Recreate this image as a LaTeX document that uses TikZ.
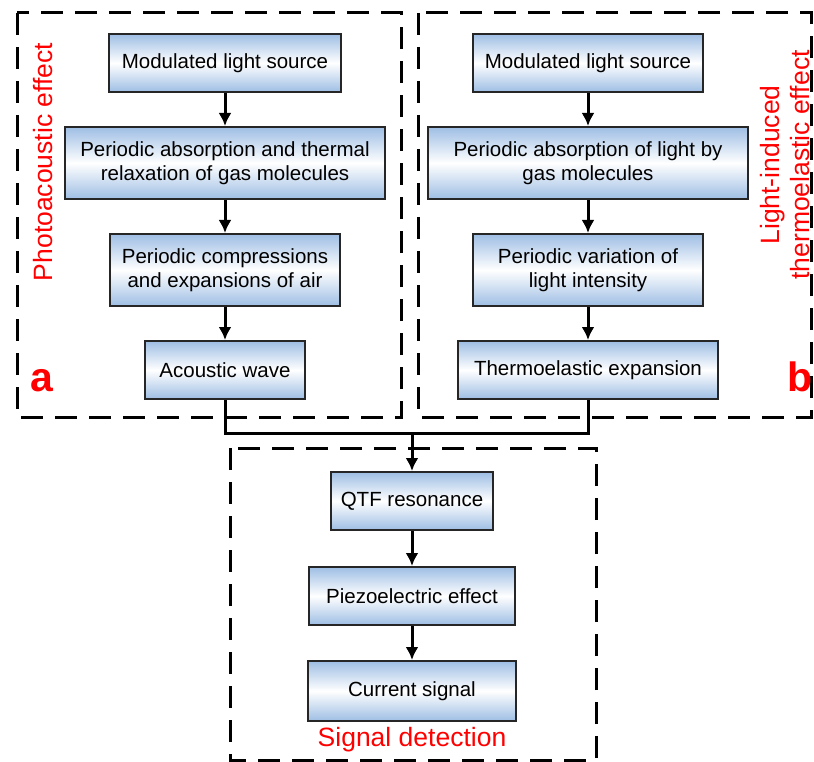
\documentclass[tikz,border=0pt]{standalone}
\usepackage{fontspec}
\setmainfont{Liberation Sans}
\usetikzlibrary{arrows.meta}
\usetikzlibrary{positioning}
\definecolor{boxblue}{RGB}{158,190,228}
\tikzset{
	stepbox/.style={
		draw=black!85,
		line width=2pt,
		rectangle,
		top color=boxblue,
		bottom color=boxblue,
		middle color=white,
		minimum height=58pt,
		inner sep=2pt,
		align=center,
		font=\fontsize{20.5}{24}\selectfont
	},
	twoline/.style={minimum height=72pt},
	frame/.style={draw, line width=3pt, dash pattern=on 22pt off 12pt},
	tag/.style={text=red, font=\fontsize{26.5}{30}\selectfont},
	letter/.style={text=red, font=\fontsize{41}{41}\selectfont\bfseries}
}

\begin{document}
\begin{tikzpicture}[
		x=1pt, y=-1pt,
		>={Latex[length=13pt,width=13pt]},
		node distance=33pt,
	]

	\useasboundingbox (0,0) rectangle (814,762);

	% Dashed frames
	\draw[frame] (17,13) rectangle (401,417);
	\draw[frame] (418,13) rectangle (811,417);
	\draw[frame] (230,448) rectangle (596,760);

	% Photoacoustic column
	\node[stepbox, minimum width=232pt] (a1) at (225,63) {Modulated light source};
	\node[stepbox, twoline, minimum width=320pt, below=of a1] (a2)
		{Periodic absorption and thermal\\relaxation of gas molecules};
	\node[stepbox, twoline, minimum width=230pt, below=of a2] (a3)
		{Periodic compressions\\and expansions of air};
	\node[stepbox, minimum width=160pt, below=of a3] (a4) {Acoustic wave};

	% Thermoelastic column
	\node[stepbox, minimum width=230pt] (b1) at (588,63) {Modulated light source};
	\node[stepbox, twoline, minimum width=320pt, below=of b1] (b2)
		{Periodic absorption of light by\\gas molecules};
	\node[stepbox, twoline, minimum width=230pt, below=of b2] (b3)
		{Periodic variation of\\light intensity};
	\node[stepbox, minimum width=260pt, below=of b3] (b4) {Thermoelastic expansion};

	% Detection column
	\node[stepbox, minimum width=162pt] (c1) at (412,501) {QTF resonance};
	\node[stepbox, minimum width=206pt, below=35pt of c1] (c2) {Piezoelectric effect};
	\node[stepbox, minimum width=208pt, minimum height=60pt, below=34pt of c2] (c3) {Current signal};

	% Labels
	\node[tag, rotate=90] (pa) at (43,162) {Photoacoustic effect};
	\node[tag, rotate=90, align=center] (te) at (785,165) {Light-induced\\thermoelastic effect};
	\node[tag] (sd) at (412,740) {Signal detection};
	\node[letter] (la) at (42,381) {a};
	\node[letter] (lb) at (800,377) {b};

	% Arrows
	\begin{scope}[line width=3pt]
		\draw[->] (a1) -- (a2);
		\draw[->] (a2) -- (a3);
		\draw[->] (a3) -- (a4);
		\draw[->] (b1) -- (b2);
		\draw[->] (b2) -- (b3);
		\draw[->] (b3) -- (b4);
		\coordinate (j) at (412,433);
		\draw (a4.south) |- (j);
		\draw (b4.south) |- (j);
		\draw[->] (j) -- (c1.north);
		\draw[->] (c1) -- (c2);
		\draw[->] (c2) -- (c3);
	\end{scope}

\end{tikzpicture}
\end{document}
